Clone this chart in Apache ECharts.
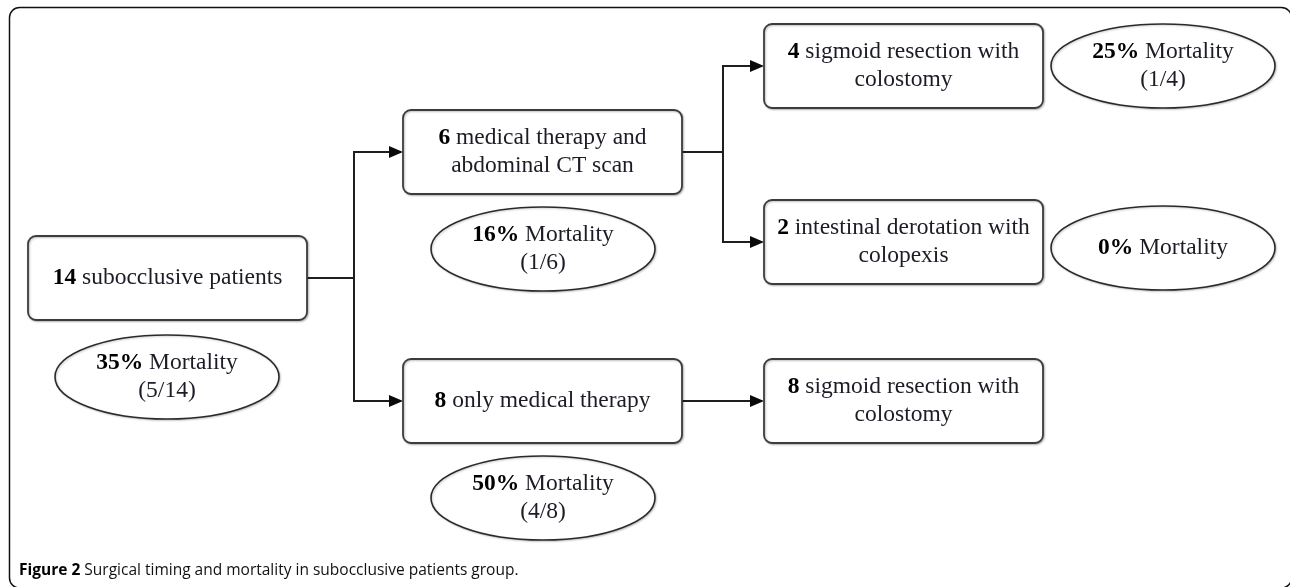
<!DOCTYPE html>
<html>
<head>
<meta charset="utf-8">
<script src="https://cdn.jsdelivr.net/npm/echarts@6/dist/echarts.min.js"></script>
<style>
html,body{margin:0;padding:0;background:#ffffff;}
#chart{width:1290px;height:587px;}
</style>
</head>
<body>
<div id="chart"></div>
<script>
// ---------------- DATA ----------------
const stepCounts = [14, 6, 8, 4, 2, 8];
const stepLabels = [
  'subocclusive patients',
  'medical therapy and\nabdominal CT scan',
  'only medical therapy',
  'sigmoid resection with\ncolostomy',
  'intestinal derotation with\ncolopexis',
  'sigmoid resection with\ncolostomy'
];
const mortalityPct = [35, 16, 50, 25, 0];
const mortalityFraction = ['5/14', '1/6', '4/8', '1/4', ''];
const flowSource = [0, 0, 1, 1, 2];
const flowTarget = [1, 2, 3, 4, 5];
const captionBold = 'Figure 2';
const captionText = 'Surgical timing and mortality in subocclusive patients group.';

// ---------------- LAYOUT (pixel space of hidden axes) ----------------
const boxLeftTop = [[28, 236], [403, 110], [403, 359], [764, 24], [764, 200], [764, 359]];
const boxSize = [279, 84];
const ellipseCenter = [[167, 377], [543, 249], [543, 498], [1163, 66], [1163, 248]];
const ellipseRadius = [112, 42];
const branchX = [354, 723, 723];

const serif = '"Liberation Serif", "Times New Roman", serif';
const textColor = '#1c1c26';
const fontSize = 23.5;
const lineH = 28.5;

function boxRich() {
  return {
    b: { fontWeight: 'bold', fontFamily: serif, fontSize: fontSize, fill: '#000', lineHeight: lineH }
  };
}

function renderBox(params, api) {
  const i = params.dataIndex;
  const lt = boxLeftTop[i];
  const p0 = api.coord([lt[0], lt[1]]);
  const p1 = api.coord([lt[0] + boxSize[0], lt[1] + boxSize[1]]);
  const lines = stepLabels[i].split('\n');
  let txt = '{b|' + stepCounts[i] + '} ' + lines[0];
  if (lines.length > 1) txt += '\n' + lines[1];
  return {
    type: 'group',
    children: [
      {
        type: 'rect',
        shape: { x: p0[0], y: p0[1], width: p1[0] - p0[0], height: p1[1] - p0[1], r: 8 },
        style: { fill: '#ffffff', stroke: '#3c3c3c', lineWidth: 1.8, shadowBlur: 2, shadowColor: 'rgba(0,0,0,0.25)', shadowOffsetX: 1, shadowOffsetY: 1 }
      },
      {
        type: 'text',
        style: {
          x: (p0[0] + p1[0]) / 2, y: (p0[1] + p1[1]) / 2,
          text: txt, align: 'center', verticalAlign: 'middle',
          fontFamily: serif, fontSize: fontSize, lineHeight: lineH, fill: textColor,
          rich: boxRich()
        }
      }
    ]
  };
}

function renderEllipse(params, api) {
  const i = params.dataIndex;
  const c = api.coord(ellipseCenter[i]);
  const s = api.size([ellipseRadius[0], ellipseRadius[1]]);
  let txt = '{b|' + mortalityPct[i] + '%} Mortality';
  if (mortalityFraction[i]) txt += '\n(' + mortalityFraction[i] + ')';
  return {
    type: 'group',
    children: [
      {
        type: 'ellipse',
        shape: { cx: c[0], cy: c[1], rx: s[0], ry: s[1] },
        style: { fill: '#ffffff', stroke: '#2a2a2a', lineWidth: 1.6, shadowBlur: 2, shadowColor: 'rgba(0,0,0,0.2)', shadowOffsetX: 1, shadowOffsetY: 1 }
      },
      {
        type: 'text',
        style: {
          x: c[0], y: c[1], text: txt, align: 'center', verticalAlign: 'middle',
          fontFamily: serif, fontSize: fontSize, lineHeight: lineH, fill: textColor,
          rich: boxRich()
        }
      }
    ]
  };
}

function renderFlow(params, api) {
  const i = params.dataIndex;
  const s = flowSource[i], t = flowTarget[i];
  const sx = boxLeftTop[s][0] + boxSize[0];
  const sy = boxLeftTop[s][1] + boxSize[1] / 2;
  const tx = boxLeftTop[t][0];
  const ty = boxLeftTop[t][1] + boxSize[1] / 2;
  const bx = branchX[s];
  const arrowLen = 14, arrowHalf = 6;
  const pts = [[sx, sy], [bx, sy], [bx, ty], [tx - arrowLen + 1, ty]].map(p => api.coord(p));
  const tip = api.coord([tx, ty]);
  return {
    type: 'group',
    children: [
      {
        type: 'polyline',
        shape: { points: pts },
        style: { fill: null, stroke: '#1e1e1e', lineWidth: 2 }
      },
      {
        type: 'polygon',
        shape: { points: [tip, [tip[0] - arrowLen, tip[1] - arrowHalf], [tip[0] - arrowLen, tip[1] + arrowHalf]] },
        style: { fill: '#0a0a0a', stroke: null }
      }
    ]
  };
}

const chart = echarts.init(document.getElementById('chart'), null, { renderer: 'canvas' });
chart.setOption({
  animation: false,
  backgroundColor: '#ffffff',
  grid: { left: 0, right: 0, top: 0, bottom: 0 },
  xAxis: { type: 'value', min: 0, max: 1290, show: false },
  yAxis: { type: 'value', min: 0, max: 587, inverse: true, show: false },
  graphic: [
    {
      type: 'rect',
      shape: { x: 9.5, y: 7.5, width: 1282, height: 580.5, r: 10 },
      style: { fill: null, stroke: '#111111', lineWidth: 1.5 },
      z: -10
    },
    {
      type: 'text',
      left: 19, top: 563,
      style: {
        text: '{b|' + captionBold + '} ' + captionText,
        fontFamily: '"Open Sans", "Noto Sans", sans-serif', fontSize: 15.5, fill: '#111',
        rich: { b: { fontFamily: '"Open Sans", "Noto Sans", sans-serif', fontSize: 15.5, fontWeight: 'bold', fill: '#000' } }
      }
    }
  ],
  series: [
    {
      type: 'custom', name: 'flows', coordinateSystem: 'cartesian2d',
      data: flowSource.map((s, i) => [s, flowTarget[i]]),
      renderItem: renderFlow, silent: true, z: 1
    },
    {
      type: 'custom', name: 'steps', coordinateSystem: 'cartesian2d',
      data: stepCounts.map((v, i) => [i, v]),
      renderItem: renderBox, silent: true, z: 2
    },
    {
      type: 'custom', name: 'mortality', coordinateSystem: 'cartesian2d',
      data: mortalityPct.map((v, i) => [i, v]),
      renderItem: renderEllipse, silent: true, z: 2
    }
  ]
});
</script>
</body>
</html>
